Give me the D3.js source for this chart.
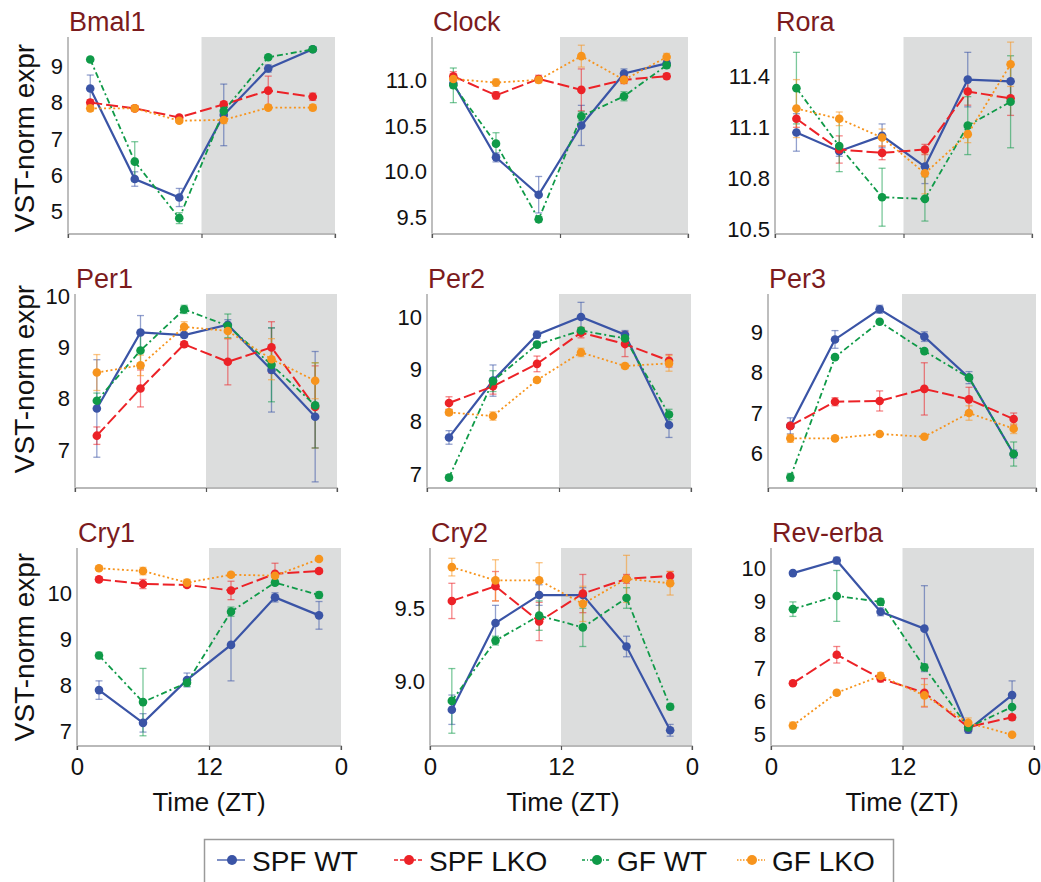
<!DOCTYPE html>
<html><head><meta charset="utf-8">
<script src="https://cdn.jsdelivr.net/npm/d3@7"></script>
<style>body{margin:0;background:#fff}svg{display:block;font-family:"Liberation Sans",Arial,Helvetica,sans-serif}</style>
</head><body>
<script>
// ---------- data ----------
const genes = ["Bmal1","Clock","Rora","Per1","Per2","Per3","Cry1","Cry2","Rev-erba"];
const zt = [2,6,10,14,18,22];
const seriesNames = ["SPF WT","SPF LKO","GF WT","GF LKO"];
const xTickLabels = ["0","12","0"];
const xTickValues = [0,12,24];
const yTicks = [[5,6,7,8,9],[9.5,10.0,10.5,11.0],[10.5,10.8,11.1,11.4],[7,8,9,10],[7,8,9,10],[6,7,8,9],[7,8,9,10],[9.0,9.5],[5,6,7,8,9,10]];
const yDomains = [[4.41,9.82],[9.33,11.48],[10.48,11.63],[6.28,10.04],[6.75,10.45],[5.16,9.96],[6.71,10.98],[8.57,9.91],[4.67,10.63]];

const spfWT = [
 [8.40,5.90,5.39,7.67,8.95,9.48],
 [10.97,10.16,9.75,10.51,11.08,11.19],
 [11.07,10.96,11.05,10.87,11.38,11.37],
 [7.81,9.29,9.24,9.44,8.56,7.65],
 [7.70,8.79,9.67,10.01,9.67,7.94],
 [6.68,8.83,9.58,8.90,7.88,5.98],
 [7.90,7.19,8.12,8.88,9.91,9.52],
 [8.81,9.40,9.59,9.59,9.24,8.67],
 [9.87,10.25,8.70,8.19,5.13,6.18]];
const spfWTErr = [
 [0.37,0.2,0.25,0.85,0.1,0.05],
 [0.05,0.05,0.2,0.22,0.05,0.03],
 [0.11,0.03,0.07,0.1,0.16,0.1],
 [0.95,0.33,0.05,0.1,0.82,1.27],
 [0.13,0.3,0.07,0.28,0.08,0.24],
 [0.2,0.22,0.1,0.12,0.15,0.1],
 [0.2,0.2,0.15,0.78,0.1,0.3],
 [0.1,0.12,0.07,0.05,0.07,0.04],
 [0.05,0.1,0.12,1.3,0.1,0.43]];
const spfLKO = [
 [8.01,7.85,7.60,7.96,8.34,8.17],
 [11.05,10.84,11.02,10.90,11.01,11.05],
 [11.15,10.97,10.95,10.97,11.31,11.27],
 [7.28,8.20,9.06,8.72,9.00,7.84],
 [8.36,8.68,9.11,9.71,9.49,9.17],
 [6.68,7.28,7.30,7.60,7.34,6.85],
 [10.30,10.20,10.18,10.06,10.42,10.48],
 [9.55,9.65,9.41,9.60,9.70,9.72],
 [6.54,7.40,6.68,6.25,5.21,5.51]];
const spfLKOErr = [
 [0.08,0.05,0.05,0.08,0.4,0.1],
 [0.05,0.04,0.04,0.23,0.04,0.03],
 [0.05,0.08,0.04,0.03,0.08,0.1],
 [0.17,0.36,0.05,0.45,0.5,0.8],
 [0.12,0.15,0.15,0.1,0.24,0.12],
 [0.05,0.1,0.25,0.65,0.3,0.15],
 [0.05,0.1,0.05,0.2,0.23,0.05],
 [0.12,0.1,0.13,0.13,0.03,0.03],
 [0.05,0.25,0.1,0.43,0.08,0.05]];
const gfWT = [
 [9.20,6.38,4.82,7.78,9.26,9.48],
 [10.95,10.31,9.48,10.61,10.83,11.17],
 [11.33,10.99,10.69,10.68,11.11,11.25],
 [7.96,8.94,9.74,9.42,8.66,7.87],
 [6.93,8.78,9.48,9.75,9.60,8.14],
 [5.40,8.39,9.27,8.54,7.88,5.98],
 [8.65,7.64,8.06,9.60,10.23,9.96],
 [8.87,9.28,9.45,9.37,9.57,8.83],
 [8.78,9.18,9.00,7.02,5.20,5.82]];
const gfWTErr = [
 [0.05,0.55,0.15,0.1,0.05,0.05],
 [0.19,0.12,0.03,0.05,0.05,0.03],
 [0.21,0.15,0.17,0.13,0.17,0.27],
 [0.15,0.35,0.08,0.23,0.72,0.83],
 [0.05,0.2,0.05,0.05,0.05,0.1],
 [0.1,0.05,0.05,0.05,0.05,0.3],
 [0.07,0.73,0.08,0.1,0.05,0.07],
 [0.22,0.03,0.1,0.13,0.07,0.02],
 [0.22,0.77,0.1,0.1,0.05,0.4]];
const gfLKO = [
 [7.85,7.85,7.51,7.53,7.87,7.87],
 [11.02,10.98,11.01,11.27,11.01,11.26],
 [11.21,11.15,11.04,10.83,11.06,11.47],
 [8.51,8.65,9.40,9.32,8.77,8.35],
 [8.18,8.11,8.80,9.33,9.07,9.12],
 [6.37,6.37,6.48,6.41,7.00,6.61],
 [10.54,10.48,10.23,10.40,10.38,10.74],
 [9.78,9.69,9.69,9.53,9.70,9.67],
 [5.26,6.25,6.76,6.17,5.34,4.98]];
const gfLKOErr = [
 [0.08,0.08,0.05,0.1,0.05,0.08],
 [0.05,0.04,0.03,0.12,0.04,0.04],
 [0.17,0.04,0.05,0.12,0.05,0.13],
 [0.35,0.2,0.1,0.15,0.4,0.35],
 [0.05,0.08,0.03,0.08,0.05,0.15],
 [0.1,0.05,0.04,0.04,0.18,0.12],
 [0.04,0.08,0.07,0.05,0.04,0.03],
 [0.06,0.14,0.12,0.12,0.16,0.08],
 [0.1,0.07,0.1,0.33,0.15,0.04]];

// ---------- styles / layout ----------
const seriesVals = [spfWT, spfLKO, gfWT, gfLKO];
const seriesErrs = [spfWTErr, spfLKOErr, gfWTErr, gfLKOErr];
const colors = ["#3a54a6","#ec2227","#0f9a48","#f7941d"];
const dashes = [null, "12,4", "6,3,2,3", "2,2.6"];
const widths = [2.2, 2.0, 1.8, 1.8];
const boxes = [
 {l:68,r:335,t:37,b:233},{l:432,r:688,t:37,b:233},{l:775,r:1032,t:37,b:233},
 {l:75,r:337,t:294,b:487},{l:427,r:691,t:294,b:487},{l:768,r:1036,t:294,b:487},
 {l:77,r:341,t:548,b:745},{l:430,r:692,t:548,b:745},{l:771,r:1034,t:548,b:745}];
const titleColor = "#7b1b1d";

const svg = d3.select("body").append("svg").attr("width",1041).attr("height",882);

genes.forEach((g,i)=>{
  const bx = boxes[i];
  const x = d3.scaleLinear().domain([0,24]).range([bx.l,bx.r]);
  const y = d3.scaleLinear().domain(yDomains[i]).range([bx.b,bx.t]);
  const p = svg.append("g");
  p.append("rect").attr("x",x(12)).attr("y",bx.t).attr("width",x(24)-x(12)).attr("height",bx.b-bx.t).attr("fill","#dcdddd");
  const yAx = p.append("g").attr("transform",`translate(${bx.l},0)`)
    .call(d3.axisLeft(y).tickValues(yTicks[i]).tickSize(0).tickPadding(5)
      .tickFormat(yTicks[i].some(v=>v%1!==0)? d3.format(".1f") : d3.format("d")));
  yAx.select(".domain").attr("d",`M0,${bx.t}V${bx.b}`).attr("stroke","#a3a3a3").attr("stroke-width",1.4);
  yAx.selectAll("text").attr("font-size",22).attr("fill","#111").attr("font-family","'Liberation Sans',Arial,sans-serif");
  const row = Math.floor(i/3);
  const xAx = p.append("g").attr("transform",`translate(0,${bx.b+1})`)
    .call(d3.axisBottom(x).tickValues(xTickValues).tickSize(4).tickPadding(8).tickFormat((d,k)=> row===2 ? xTickLabels[k] : ""));
  xAx.select(".domain").attr("stroke","#a3a3a3").attr("stroke-width",1.4).attr("d",`M${bx.l},4V0H${bx.r}V4`);
  xAx.selectAll(".tick line").attr("stroke","#555").attr("stroke-width",1.2);
  xAx.selectAll("text").attr("font-size",24).attr("fill","#111").attr("font-family","'Liberation Sans',Arial,sans-serif");
  p.append("text").attr("x",bx.l+1).attr("y",bx.t-6).attr("font-size",27).attr("fill",titleColor).text(g);
  seriesVals.forEach((sv,s)=>{
    const vals = sv[i], errs = seriesErrs[s][i];
    const pts = zt.map((t,k)=>({t, v:vals[k], e:errs[k]}));
    const eg = p.append("g").attr("stroke",colors[s]).attr("stroke-opacity",0.55).attr("stroke-width",1.3);
    pts.forEach(d=>{
      const xx = x(d.t), y1 = y(d.v+d.e), y2 = y(d.v-d.e);
      eg.append("line").attr("x1",xx).attr("x2",xx).attr("y1",y1).attr("y2",y2);
      eg.append("line").attr("x1",xx-3.5).attr("x2",xx+3.5).attr("y1",y1).attr("y2",y1);
      eg.append("line").attr("x1",xx-3.5).attr("x2",xx+3.5).attr("y1",y2).attr("y2",y2);
    });
  });
  seriesVals.forEach((sv,s)=>{
    const pts = zt.map((t,k)=>({t, v:sv[i][k]}));
    const line = d3.line().x(d=>x(d.t)).y(d=>y(d.v));
    p.append("path").datum(pts).attr("d",line).attr("fill","none").attr("stroke",colors[s])
      .attr("stroke-width",widths[s]).attr("stroke-dasharray",dashes[s]);
    p.append("g").selectAll("circle").data(pts).join("circle")
      .attr("cx",d=>x(d.t)).attr("cy",d=>y(d.v)).attr("r",4.3).attr("fill",colors[s]);
  });
  if (i%3===0) {
    svg.append("text").attr("transform",`translate(34,${[138,379,647][row]}) rotate(-90)`)
      .attr("text-anchor","middle").attr("font-size",28).attr("fill","#111").text("VST-norm expr");
  }
  if (row===2) {
    svg.append("text").attr("x",[209,563,902][i%3]).attr("y",811).attr("text-anchor","middle")
      .attr("font-size",26).attr("fill","#111").text("Time (ZT)");
  }
});

// legend
const lg = svg.append("g");
lg.append("rect").attr("x",204.5).attr("y",839.5).attr("width",689).attr("height",60).attr("fill","#fff").attr("stroke","#9a9a9a").attr("stroke-width",1.5);
const legX = [217,394,582,737];
seriesNames.forEach((n,s)=>{
  const g = lg.append("g").attr("transform",`translate(${legX[s]},860)`);
  g.append("line").attr("x1",0).attr("x2",28).attr("y1",0).attr("y2",0).attr("stroke",colors[s]).attr("stroke-width",1.3).attr("stroke-dasharray",dashes[s] ? (s===1?"4,2":s===2?"3,2,1,2":"1.5,1.5"):null);
  g.append("circle").attr("cx",15).attr("cy",0).attr("r",5).attr("fill",colors[s]);
  g.append("text").attr("x",35).attr("y",10.5).attr("font-size",28).attr("fill","#111").text(n);
});
</script>
</body></html>
